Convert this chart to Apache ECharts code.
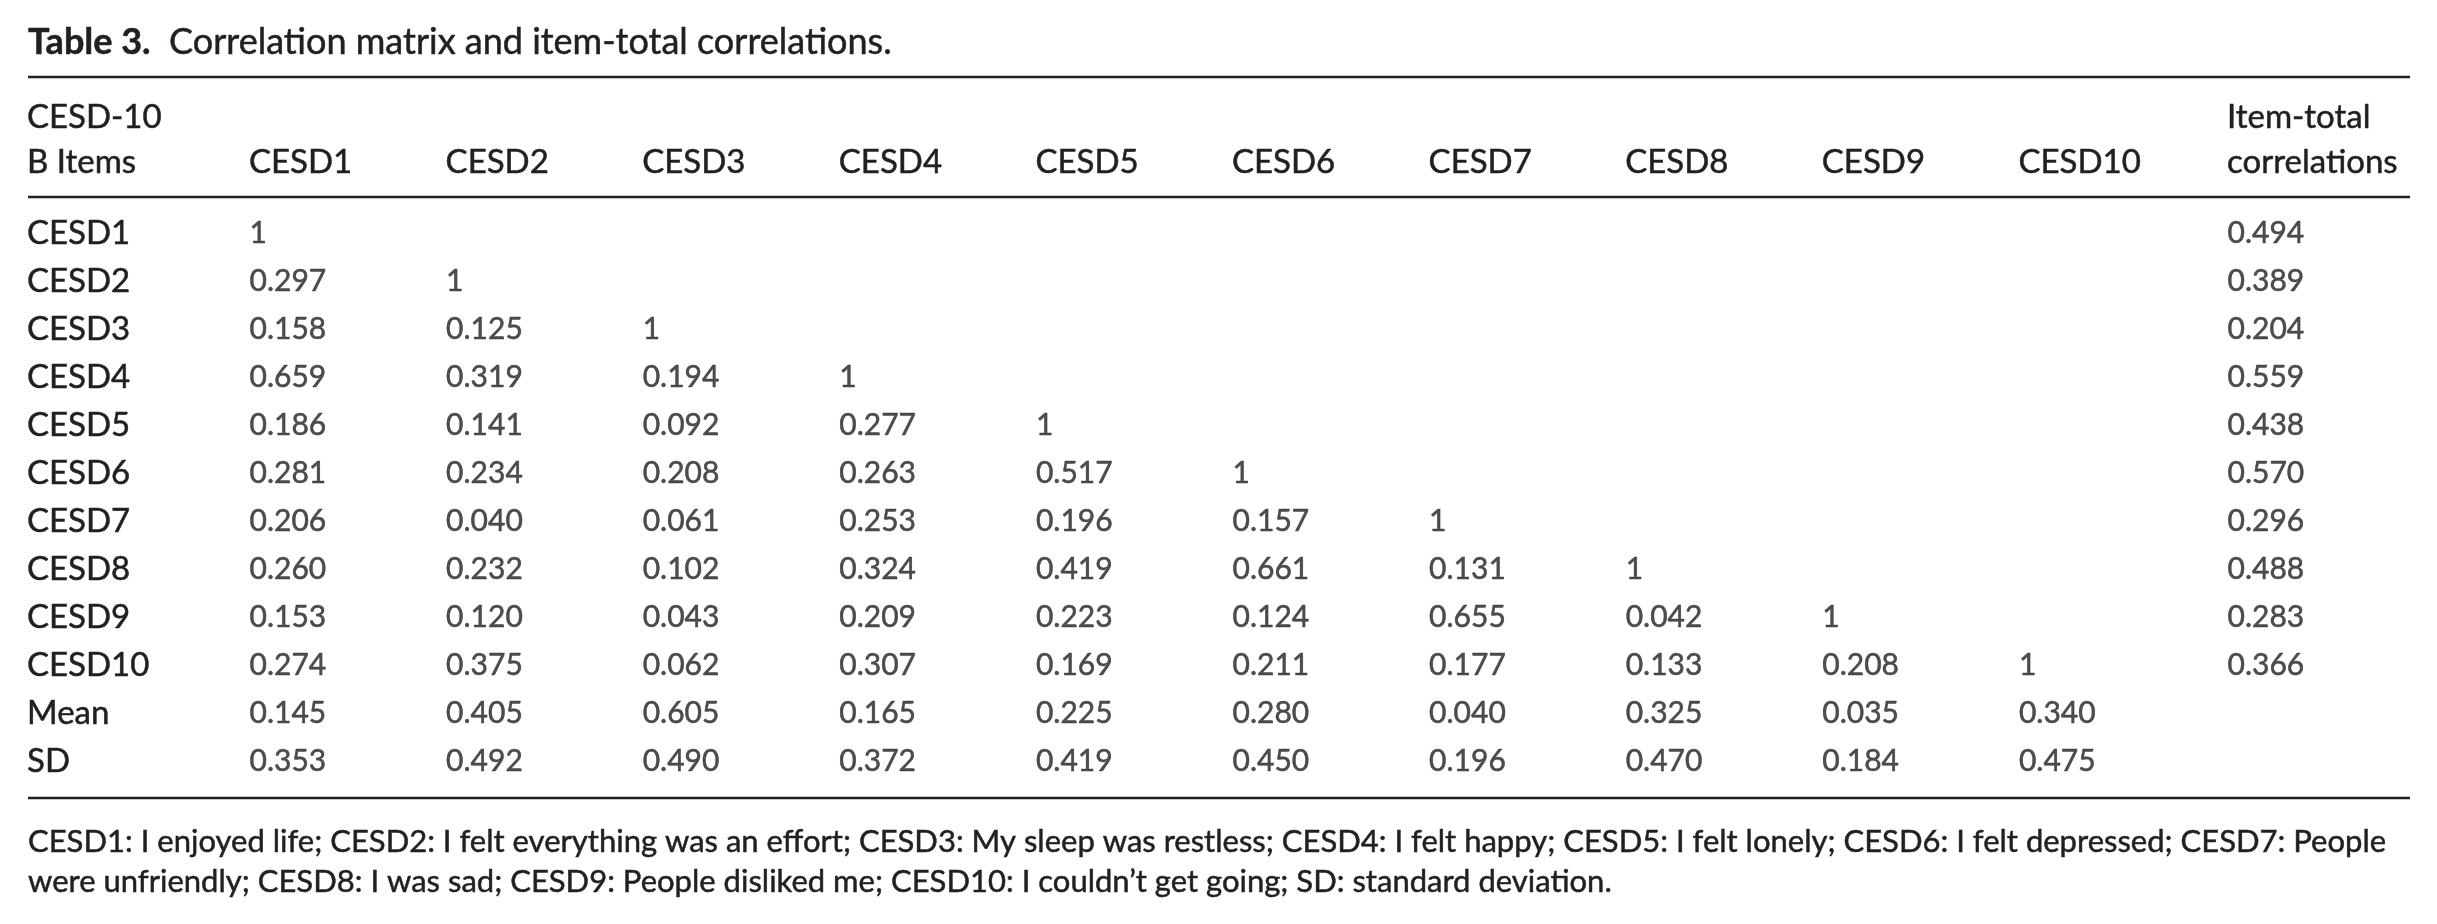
<!DOCTYPE html>
<html>
<head>
<meta charset="utf-8">
<script src="https://cdn.jsdelivr.net/npm/echarts@6/dist/echarts.min.js"></script>
<style>
  html, body { margin: 0; padding: 0; background: #fff; }
  #chart { width: 2437px; height: 924px; }
</style>
</head>
<body>
<div id="chart"></div>
<script>
// table contents
const columns = ['CESD1', 'CESD2', 'CESD3', 'CESD4', 'CESD5', 'CESD6', 'CESD7', 'CESD8', 'CESD9', 'CESD10']
const rowNames = ['CESD1', 'CESD2', 'CESD3', 'CESD4', 'CESD5', 'CESD6', 'CESD7', 'CESD8', 'CESD9', 'CESD10', 'Mean', 'SD']

// lower triangle of the correlation matrix, one array per row
const corr1 = [1]
const corr2 = [0.297, 1]
const corr3 = [0.158, 0.125, 1]
const corr4 = [0.659, 0.319, 0.194, 1]
const corr5 = [0.186, 0.141, 0.092, 0.277, 1]
const corr6 = [0.281, 0.234, 0.208, 0.263, 0.517, 1]
const corr7 = [0.206, 0.040, 0.061, 0.253, 0.196, 0.157, 1]
const corr8 = [0.260, 0.232, 0.102, 0.324, 0.419, 0.661, 0.131, 1]
const corr9 = [0.153, 0.120, 0.043, 0.209, 0.223, 0.124, 0.655, 0.042, 1]
const corr10 = [0.274, 0.375, 0.062, 0.307, 0.169, 0.211, 0.177, 0.133, 0.208, 1]
const means = [0.145, 0.405, 0.605, 0.165, 0.225, 0.280, 0.040, 0.325, 0.035, 0.340]
const sds = [0.353, 0.492, 0.490, 0.372, 0.419, 0.450, 0.196, 0.470, 0.184, 0.475]
const itemTotal = [0.494, 0.389, 0.204, 0.559, 0.438, 0.570, 0.296, 0.488, 0.283, 0.366]

const tableRows = [corr1, corr2, corr3, corr4, corr5, corr6, corr7, corr8, corr9, corr10, means, sds]

const INK = '#231f20'
const FONT = 'Lato'
// Lato is lighter than the original face, a thin outline thickens it a bit
const heavy = { textBorderColor: INK, textBorderWidth: 0.5 }

const cells = []
tableRows.forEach((row, r) => {
  row.forEach((v, c) => cells.push([c, r, v]))
})
const totalCells = itemTotal.map((v, r) => [0, r, v])

const fmt = p => (p.value[2] === 1 ? '1' : p.value[2].toFixed(3))

const cellLabel = {
  show: true,
  position: 'right',
  distance: 0,
  align: 'left',
  verticalAlign: 'middle',
  color: INK,
  fontFamily: FONT,
  fontSize: 30,
  ...heavy,
  formatter: fmt
}

const headLabel = {
  interval: 0, align: 'left', verticalAlign: 'bottom', margin: 48.5,
  lineHeight: 45, fontFamily: FONT, fontSize: 33, color: INK, ...heavy
}

const hiddenAxis = { axisLine: { show: false }, axisTick: { show: false }, splitLine: { show: false } }

const chart = echarts.init(document.getElementById('chart'))

chart.setOption({
  animation: false,
  backgroundColor: '#fff',
  textStyle: { fontFamily: FONT, color: INK },
  title: [
    {
      text: '{b|Table 3.}  Correlation matrix and item-total correlations.',
      left: 28, top: 24, padding: 0,
      textStyle: {
        fontFamily: FONT, fontSize: 36, fontWeight: 'normal', color: INK, ...heavy,
        rich: { b: { fontFamily: FONT, fontSize: 36, fontWeight: 'bold', color: INK } }
      }
    },
    {
      text: 'CESD-10\nB Items',
      left: 27, top: 95, padding: 0,
      textStyle: { fontFamily: FONT, fontSize: 33, fontWeight: 'normal', color: INK, lineHeight: 45, ...heavy }
    },
    {
      text: 'CESD1: I enjoyed life; CESD2: I felt everything was an effort; CESD3: My sleep was restless; CESD4: I felt happy; CESD5: I felt lonely; CESD6: I felt depressed; CESD7: People\nwere unfriendly; CESD8: I was sad; CESD9: People disliked me; CESD10: I couldn\u2019t get going; SD: standard deviation.',
      left: 28, top: 822, padding: 0,
      textStyle: { fontFamily: FONT, fontSize: 31, fontWeight: 'normal', color: INK, lineHeight: 40, ...heavy }
    }
  ],
  graphic: [77, 197, 798].map(y => ({
    type: 'line',
    shape: { x1: 28, y1: y, x2: 2410, y2: y },
    style: { stroke: INK, lineWidth: 2.5 },
    silent: true
  })),
  grid: [
    { left: 249, top: 233, width: 1769.4, height: 528, outerBoundsMode: 'none' },
    { left: 2207, top: 233, width: 40, height: 528, outerBoundsMode: 'none' }
  ],
  xAxis: [
    {
      gridIndex: 0, type: 'category', position: 'top', data: columns, boundaryGap: false,
      ...hiddenAxis, axisLabel: headLabel
    },
    {
      gridIndex: 1, type: 'category', position: 'top', data: ['Item-total\ncorrelations'],
      ...hiddenAxis, axisLabel: headLabel
    }
  ],
  yAxis: [
    {
      gridIndex: 0, type: 'category', data: rowNames, inverse: true, boundaryGap: false,
      ...hiddenAxis,
      axisLabel: {
        interval: 0, align: 'left', verticalAlign: 'middle', margin: 222,
        fontFamily: FONT, fontSize: 33, color: INK, ...heavy
      }
    },
    {
      gridIndex: 1, type: 'category', data: rowNames, inverse: true, boundaryGap: false,
      ...hiddenAxis,
      axisLabel: { show: false }
    }
  ],
  series: [
    {
      type: 'scatter', xAxisIndex: 0, yAxisIndex: 0, data: cells,
      symbolSize: 1, itemStyle: { color: 'rgba(0,0,0,0)' }, label: cellLabel
    },
    {
      type: 'scatter', xAxisIndex: 1, yAxisIndex: 1, data: totalCells,
      symbolSize: 1, itemStyle: { color: 'rgba(0,0,0,0)' }, label: cellLabel
    }
  ]
})
</script>
</body>
</html>
